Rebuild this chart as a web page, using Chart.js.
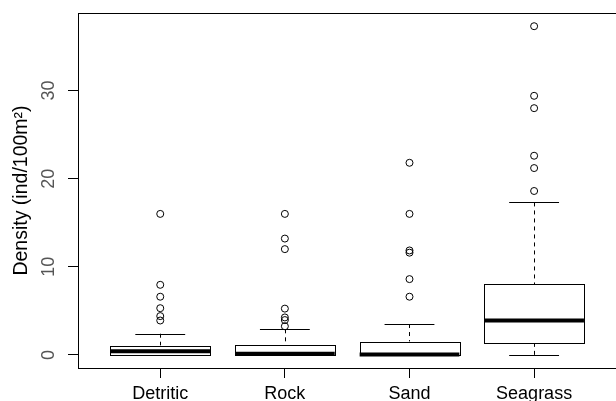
<!DOCTYPE html>
<html>
<head>
<meta charset="utf-8">
<script src="https://cdn.jsdelivr.net/npm/chart.js@4/dist/chart.umd.min.js"></script>
<style>
    body { margin: 0; background: #fff; }
</style>
</head>
<body>
<canvas id="boxChart" width="616" height="401"></canvas>
<script>
const categories = ['Detritic', 'Rock', 'Sand', 'Seagrass'];
const whiskerLow = [0, 0, 0, 0];
const q1 = [0, 0, 0, 1.25];
const medians = [0.4, 0.12, 0.03, 3.9];
const q3 = [1.05, 1.15, 1.5, 8.0];
const whiskerHigh = [2.4, 2.9, 3.5, 17.3];
const outliers = [
    [16.0, 7.95, 6.6, 5.3, 4.4, 3.9],
    [16.0, 13.2, 12.0, 5.25, 4.25, 3.95, 3.25],
    [21.8, 16.0, 11.85, 11.6, 8.6, 6.6],
    [37.3, 29.4, 28.0, 22.6, 21.2, 18.6]
];
const yTicks = [0, 10, 20, 30];

(function () {
    const ctx = document.getElementById('boxChart').getContext('2d');
    const points = [];
    outliers.forEach((list, i) => list.forEach(v => points.push({ x: i + 1, y: v })));

    // boxes, whiskers and medians, drawn with the chart's own scales
    const boxPlugin = {
        id: 'boxPlugin',
        beforeDatasetsDraw(chart) {
            const c = chart.ctx, xs = chart.scales.x, ys = chart.scales.y;
            c.save();
            c.strokeStyle = '#000';
            categories.forEach((name, i) => {
                const xc = Math.round(xs.getPixelForValue(i + 1)) + 0.5;
                const xl = xs.getPixelForValue(i + 1 - 0.4), xr = xs.getPixelForValue(i + 1 + 0.4);
                const sl = xs.getPixelForValue(i + 1 - 0.2), sr = xs.getPixelForValue(i + 1 + 0.2);
                const yq1 = ys.getPixelForValue(q1[i]), yq3 = ys.getPixelForValue(q3[i]);
                const ylo = ys.getPixelForValue(whiskerLow[i]), yhi = ys.getPixelForValue(whiskerHigh[i]);
                const ymed = ys.getPixelForValue(medians[i]);
                c.lineWidth = 1;
                c.setLineDash([4, 4]);
                c.beginPath();
                c.moveTo(xc, yhi); c.lineTo(xc, yq3);
                c.moveTo(xc, ylo); c.lineTo(xc, yq1);
                c.stroke();
                c.setLineDash([]);
                c.beginPath();
                c.moveTo(sl, Math.round(yhi) + 0.5); c.lineTo(sr, Math.round(yhi) + 0.5);
                c.moveTo(sl, Math.round(ylo) + 0.5); c.lineTo(sr, Math.round(ylo) + 0.5);
                c.stroke();
                c.fillStyle = '#fff';
                c.fillRect(xl, yq3, xr - xl, yq1 - yq3);
                c.strokeRect(Math.round(xl) + 0.5, Math.round(yq3) + 0.5, Math.round(xr - xl), Math.round(yq1 - yq3));
                c.lineWidth = 4;
                c.beginPath();
                c.moveTo(xl, ymed); c.lineTo(xr, ymed);
                c.stroke();
            });
            c.restore();
        },
        afterDraw(chart) {
            const a = chart.chartArea, c = chart.ctx;
            c.save();
            c.strokeStyle = '#000';
            c.lineWidth = 1;
            c.strokeRect(Math.round(a.left) + 0.5, Math.round(a.top) + 0.5, a.right - a.left + 20, Math.round(a.bottom - a.top));
            c.restore();
        }
    };

    new Chart(ctx, {
        type: 'scatter',
        data: {
            datasets: [{
                data: points,
                pointRadius: 3.5,
                pointBorderWidth: 1,
                borderColor: '#000',
                backgroundColor: 'rgba(255,255,255,0)'
            }]
        },
        options: {
            responsive: false,
            animation: false,
            devicePixelRatio: 1,
            layout: { padding: { top: 13, left: 0, right: 0, bottom: 0 } },
            plugins: { legend: { display: false }, tooltip: { enabled: false } },
            scales: {
                x: {
                    type: 'linear',
                    min: 0.34,
                    max: 4.617,
                    afterBuildTicks: s => { s.ticks = categories.map((n, i) => ({ value: i + 1 })); },
                    afterFit: s => { s.height = 33; s.paddingLeft = 0; s.paddingRight = 0; },
                    grid: { drawOnChartArea: false, drawTicks: true, tickLength: 10, color: '#000' },
                    border: { display: false },
                    ticks: {
                        autoSkip: false,
                        maxRotation: 0,
                        padding: 5,
                        color: '#000',
                        font: { family: 'Liberation Sans', size: 18 },
                        callback: v => categories[v - 1]
                    }
                },
                y: {
                    min: -1.49,
                    max: 38.8,
                    afterBuildTicks: s => { s.ticks = yTicks.map(v => ({ value: v })); },
                    afterFit: s => { s.width = 78; s.paddingTop = 0; s.paddingBottom = 0; },
                    grid: { drawOnChartArea: false, drawTicks: true, tickLength: 10, color: '#000' },
                    border: { display: false },
                    ticks: {
                        minRotation: 90,
                        maxRotation: 90,
                        crossAlign: 'center',
                        padding: 9,
                        color: '#555',
                        font: { family: 'Liberation Sans', size: 18 }
                    },
                    title: {
                        display: true,
                        text: 'Density (ind/100m²)',
                        color: '#000',
                        padding: { top: 10, bottom: 0 },
                        font: { family: 'Liberation Sans', size: 19.5 }
                    }
                }
            }
        },
        plugins: [boxPlugin]
    });
})()
</script>
</body>
</html>
